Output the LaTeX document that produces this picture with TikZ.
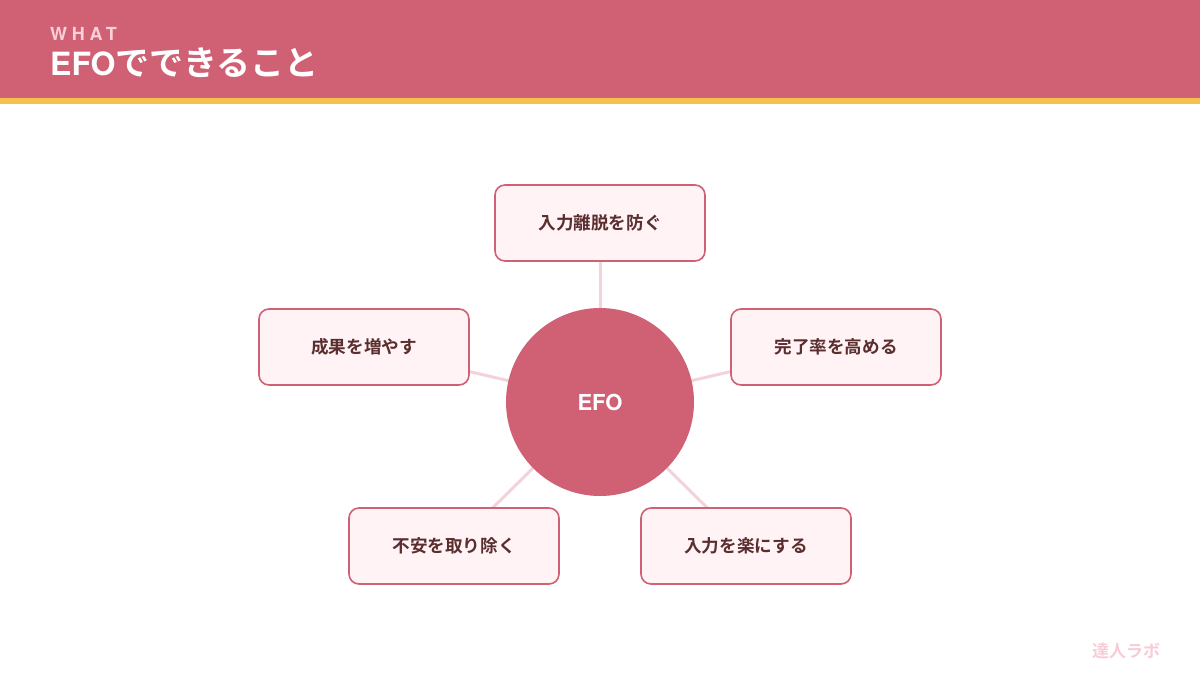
\documentclass[tikz,border=0pt]{standalone}
\usepackage{fontspec}
\usetikzlibrary{backgrounds}
\setmainfont{Noto Sans CJK JP}[BoldFont={Noto Sans CJK JP Bold}]
\newfontfamily\latinb{texgyreheros-bold.otf}
\newfontfamily\latinwide{texgyreheros-bold.otf}[LetterSpace=26]
\definecolor{rose}{HTML}{D06074}
\definecolor{gold}{HTML}{F2C14E}
\definecolor{pinkwhat}{HTML}{F9D0D8}
\definecolor{boxfill}{HTML}{FFF3F5}
\definecolor{txt}{HTML}{5A2E2E}
\definecolor{link}{HTML}{F2D3DA}
\definecolor{foot}{HTML}{F6CCD6}
\tikzset{
  itembox/.style={draw=rose, line width=1.6pt, fill=boxfill, rounded corners=10pt,
    minimum width=210pt, minimum height=76pt, inner sep=0pt, text=txt,
    font=\fontsize{17.6}{20}\selectfont\bfseries},
  hub/.style={circle, fill=rose, minimum size=188pt, inner sep=0pt, text=white,
    font=\fontsize{22}{26}\latinb},
  linkline/.style={draw=link, line width=3pt}
}
\begin{document}
\begin{tikzpicture}[x=1pt,y=-1pt]
\useasboundingbox (0,0) rectangle (1200,680);
\fill[rose] (0,0) rectangle (1200,98);
\fill[gold] (0,98) rectangle (1200,104);
\node[anchor=base west, inner sep=0pt, text=pinkwhat, font=\fontsize{18}{22}\latinwide] (what) at (50,40) {WHAT};
\node[anchor=base west, inner sep=0pt, text=white, font=\fontsize{34}{40}\selectfont\bfseries] (title) at (50,75) {{\fontsize{32}{40}\latinb EFO}でできること};
\node[itembox] (top) at (600,223) {入力離脱を防ぐ};
\node[itembox] (left) at (364,347) {成果を増やす};
\node[itembox] (right) at (836,347) {完了率を高める};
\node[itembox] (bl) at (454,546) {不安を取り除く};
\node[itembox] (br) at (746,546) {入力を楽にする};
\node[hub] (hubnode) at (600,402) {EFO};
\begin{pgfonlayer}{background}
\path[linkline] (hubnode.center) -- (top.center);
\path[linkline] (hubnode.center) -- (left.center);
\path[linkline] (hubnode.center) -- (right.center);
\path[linkline] (hubnode.center) -- (bl.center);
\path[linkline] (hubnode.center) -- (br.center);
\end{pgfonlayer}
\node[text=foot, inner sep=0pt, font=\fontsize{17}{20}\selectfont\bfseries] (footer) at (1126,651) {達人ラボ};
\end{tikzpicture}
\end{document}
